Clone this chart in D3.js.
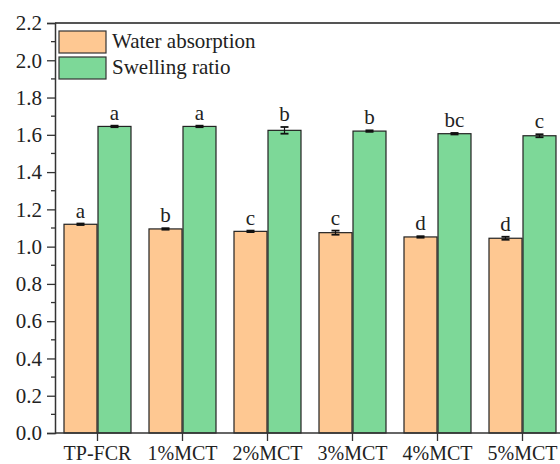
<!DOCTYPE html>
<html><head><meta charset="utf-8">
<script src="https://cdn.jsdelivr.net/npm/d3@7"></script>
<style>body{margin:0;background:#fff}svg{display:block}</style>
</head><body><div id="c"></div>
<script>
const categories = ["TP-FCR","1%MCT","2%MCT","3%MCT","4%MCT","5%MCT"];
const seriesNames = ["Water absorption","Swelling ratio"];
const waterAbsorption = [1.12,1.095,1.082,1.075,1.052,1.045];
const waterErr = [0.004,0.004,0.004,0.011,0.004,0.008];
const waterLetters = ["a","b","c","c","d","d"];
const swellingRatio = [1.645,1.645,1.624,1.620,1.606,1.595];
const swellErr = [0.004,0.004,0.018,0.004,0.004,0.008];
const swellLetters = ["a","a","b","b","bc","c"];
const yTicks = [0,0.2,0.4,0.6,0.8,1.0,1.2,1.4,1.6,1.8,2.0,2.2];
const colors = ["#FEC892","#7DD898"];
const FONT = "'Liberation Serif', 'Times New Roman', serif";

const W=560,H=464;
const svg=d3.select("#c").append("svg").attr("width",W).attr("height",H);
const x0=d3.scaleBand().domain(categories).range([55,565]).paddingInner(0.2).paddingOuter(0.1);
const x1=d3.scaleBand().domain(seriesNames).range([0,x0.bandwidth()]);
const y=d3.scaleLinear().domain([0,2.2]).range([433,23]);

const data=categories.map((c,i)=>({c,vals:[
 {s:seriesNames[0],v:waterAbsorption[i],e:waterErr[i],l:waterLetters[i],col:colors[0]},
 {s:seriesNames[1],v:swellingRatio[i],e:swellErr[i],l:swellLetters[i],col:colors[1]}]}));

const g=svg.selectAll("g.grp").data(data).enter().append("g").attr("transform",d=>`translate(${x0(d.c)},0)`);
g.selectAll("rect").data(d=>d.vals).enter().append("rect")
 .attr("x",d=>x1(d.s)+0.5).attr("width",x1.bandwidth()-1)
 .attr("y",d=>y(d.v)).attr("height",d=>y(0)-y(d.v))
 .attr("fill",d=>d.col).attr("stroke","#222").attr("stroke-width",1.2);
const eb=g.selectAll("g.eb").data(d=>d.vals).enter().append("g");
eb.append("line").attr("x1",d=>x1(d.s)+x1.bandwidth()/2).attr("x2",d=>x1(d.s)+x1.bandwidth()/2)
 .attr("y1",d=>y(d.v+d.e)).attr("y2",d=>y(d.v-d.e)).attr("stroke","#111").attr("stroke-width",1.2);
["+","-"].forEach(sg=>{
 eb.append("line").attr("x1",d=>x1(d.s)+x1.bandwidth()/2-4).attr("x2",d=>x1(d.s)+x1.bandwidth()/2+4)
  .attr("y1",d=>y(sg==="+"?d.v+d.e:d.v-d.e)).attr("y2",d=>y(sg==="+"?d.v+d.e:d.v-d.e))
  .attr("stroke","#111").attr("stroke-width",1.8);
});
eb.append("text").attr("x",d=>x1(d.s)+x1.bandwidth()/2).attr("y",d=>y(d.v+d.e)-6)
 .attr("text-anchor","middle").style("font-size","21px").style("font-family",FONT).attr("fill","#222").text(d=>d.l);

// top frame
svg.append("line").attr("x1",55).attr("x2",W).attr("y1",23).attr("y2",23).attr("stroke","#555").attr("stroke-width",2);

// y axis
const ya=svg.append("g").attr("transform","translate(55,0)")
 .call(d3.axisLeft(y).tickValues(yTicks).tickFormat(d3.format(".1f")).tickSize(8).tickPadding(5));
ya.attr("font-family",null).attr("font-size",null);
ya.select(".domain").attr("stroke","#333").attr("stroke-width",1.5);
ya.selectAll(".tick line").attr("stroke","#333").attr("stroke-width",1.3);
ya.selectAll("text").style("font-size","21px").style("font-family",FONT).attr("fill","#222");
const minor=d3.range(0.1,2.2,0.2);
svg.append("g").selectAll("line").data(minor).enter().append("line")
 .attr("x1",51).attr("x2",55).attr("y1",d=>y(d)).attr("y2",d=>y(d)).attr("stroke","#333").attr("stroke-width",1.3);

// x axis
const xa=svg.append("g").attr("transform","translate(0,433)")
 .call(d3.axisBottom(x0).tickSize(8).tickPadding(5));
xa.attr("font-family",null).attr("font-size",null);
xa.select(".domain").attr("d",`M55,0H${W}`).attr("stroke","#333").attr("stroke-width",1.5);
xa.selectAll(".tick line").attr("stroke","#333").attr("stroke-width",1.3);
xa.selectAll("text").style("font-size","20px").style("font-family",FONT).attr("fill","#222");

// legend
const lg=svg.append("g");
seriesNames.forEach((s,i)=>{
 lg.append("rect").attr("x",59).attr("y",31+i*26).attr("width",47).attr("height",22)
  .attr("fill",colors[i]).attr("stroke","#333").attr("stroke-width",1.2);
 lg.append("text").attr("x",112).attr("y",48+i*25.5).style("font-size","21px").style("font-family",FONT).attr("fill","#222").text(s);
});
</script></body></html>
